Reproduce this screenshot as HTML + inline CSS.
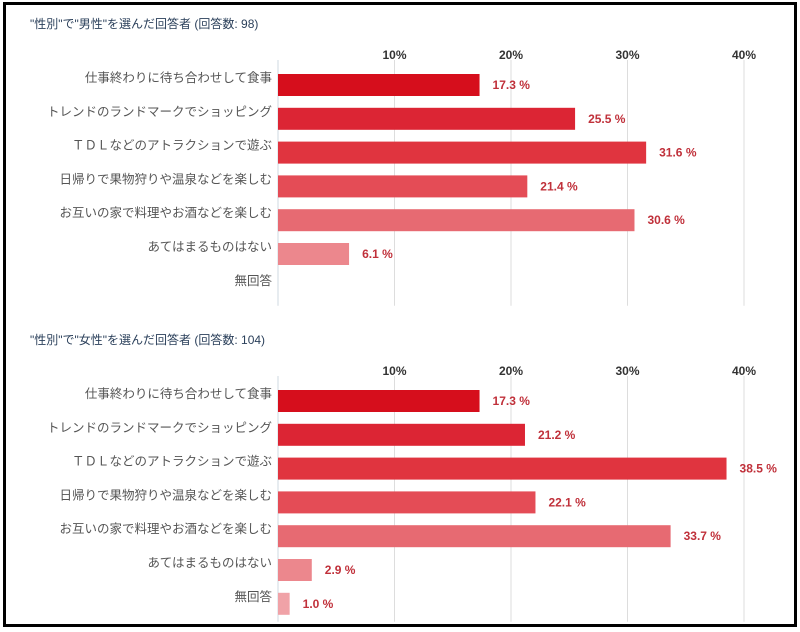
<!DOCTYPE html>
<html><head><meta charset="utf-8">
<style>
body{margin:0;background:#fff;width:800px;height:632px;overflow:hidden;font-family:"Liberation Sans","Noto Sans CJK JP",sans-serif;}
#frame{position:absolute;left:3px;top:2px;width:788px;height:619px;border:3px solid #000;background:#fff;}
svg{position:absolute;left:0;top:0;}
</style></head><body>
<div id="frame"></div>
<svg id="chart" width="800" height="632"></svg>
<script>
const categories=["仕事終わりに待ち合わせして食事","トレンドのランドマークでショッピング","ＴＤＬなどのアトラクションで遊ぶ","日帰りで果物狩りや温泉などを楽しむ","お互いの家で料理やお酒などを楽しむ","あてはまるものはない","無回答"];
const maleValues=[17.3,25.5,31.6,21.4,30.6,6.1,null];
const femaleValues=[17.3,21.2,38.5,22.1,33.7,2.9,1.0];
const tickValues=[10,20,30,40];
const tickLabels=["10%","20%","30%","40%"];
const titles=['"性別"で"男性"を選んだ回答者 (回答数: 98)','"性別"で"女性"を選んだ回答者 (回答数: 104)'];
const colors=["#d60e1c","#dc2534","#e0343f","#e44c56","#e76a72","#ec878d","#f0a2a7"];
const NS="http://www.w3.org/2000/svg";
const svg=document.getElementById('chart');
const x0=278, pxPer=11.65;
function xs(v){return x0+v*pxPer;}
function mk(tag,attrs,txt){const e=document.createElementNS(NS,tag);for(const k in attrs)e.setAttribute(k,attrs[k]);if(txt!=null)e.textContent=txt;svg.appendChild(e);return e;}
function panel(top,title,values,idx){
  const t=mk('text',{x:30,y:top+8,'font-size':12,fill:'#2a3f5a'},title);
  
  
  const gTop=top+40, rowH=33.8, first=top+65;
  const gBot=first+rowH*6+18;
  const ax=mk('line',{x1:x0,y1:gTop,x2:x0,y2:gBot,stroke:'#cfd8e0','stroke-width':1});
  
  
  tickValues.forEach((v,i)=>{
    const l=mk('line',{x1:xs(v),y1:gTop,x2:xs(v),y2:gBot,stroke:'#dddddd','stroke-width':1});
    
    
    const tl=mk('text',{x:xs(v),y:top+39,'font-size':12,'font-weight':'bold',fill:'#333','text-anchor':'middle'},tickLabels[i]);
    
    
  });
  categories.forEach((c,i)=>{
    const cy=first+rowH*i;
    const lb=mk('text',{x:x0-6,y:cy-3,'font-size':12.5,fill:'#555','text-anchor':'end'},c);
    
    
    const v=values[i];
    if(v==null)return;
    const b=mk('rect',{x:x0,y:cy-11,width:xs(v)-x0,height:22,fill:colors[i]});
    
    
    const vl=mk('text',{x:xs(v)+13,y:cy+4,'font-size':12,'font-weight':'bold',fill:'#c0303a'},v.toFixed(1)+' %');
    
    
  });
}
panel(20,titles[0],maleValues,0);
panel(336,titles[1],femaleValues,1);
</script>
</body></html>
